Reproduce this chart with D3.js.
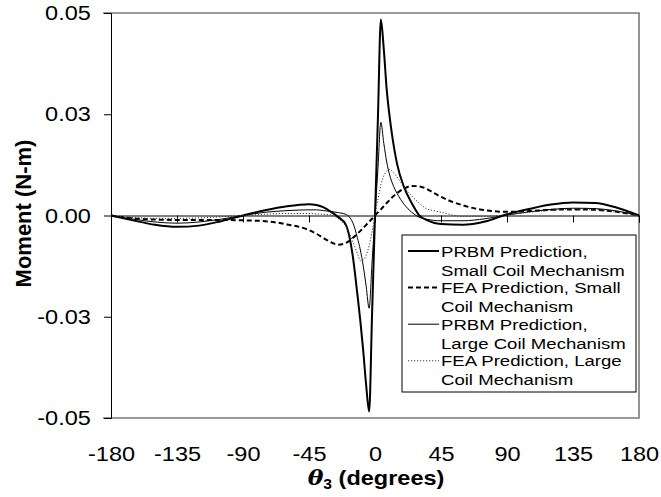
<!DOCTYPE html>
<html>
<head>
<meta charset="utf-8">
<script src="https://d3js.org/d3.v7.min.js"></script>
<style>
  body { margin: 0; background: #fff; }
  text { font-family: Arial, "Liberation Sans", sans-serif; fill: #000; }
</style>
</head>
<body>
<div id="vis"></div>
<script>
  // angle samples (degrees), denser near zero where the spikes are
  var theta = [-180, -165, -150, -135, -120, -105, -90, -75, -60, -45,
    -40, -35, -30, -25, -20, -15, -12, -10, -8, -6, -4, -2, 0,
    2, 4, 6, 8, 10, 12, 15, 20, 25, 30, 35, 40, 45,
    60, 75, 90, 105, 120, 135, 150, 165, 180];

  var prbmSmall = [0, -0.0012, -0.0023, -0.0028, -0.0025, -0.0014, 0, 0.0013, 0.0023, 0.0028,
    0.0026, 0.0020, 0.0009, -0.0004, -0.0022, -0.0104, -0.0195, -0.026, -0.0335, -0.042, -0.0484, -0.0242, 0,
    0.0242, 0.0484, 0.041, 0.031, 0.0243, 0.019, 0.0128, 0.0068, 0.0031, 0.0001, -0.0011, -0.0018, -0.0021,
    -0.0023, -0.0015, 0.0003, 0.0016, 0.0027, 0.0032, 0.0031, 0.0019, 0];

  var feaSmall = [0, -0.0007, -0.0010, -0.0011, -0.0011, -0.0011, -0.0012, -0.0014, -0.0022, -0.0036,
    -0.0045, -0.0056, -0.0066, -0.0072, -0.0068, -0.0055, -0.0045, -0.0038, -0.0031, -0.0023, -0.0015, -0.0008, 0,
    0.0008, 0.0015, 0.0023, 0.0031, 0.0038, 0.0046, 0.0055, 0.0067, 0.0073, 0.0072, 0.0066, 0.0056, 0.0046,
    0.0025, 0.0013, 0.0009, 0.0011, 0.0014, 0.0015, 0.0014, 0.0009, 0];

  var prbmLarge = [0, -0.0009, -0.0016, -0.0019, -0.0016, -0.0009, 0, 0.0008, 0.0012, 0.0014,
    0.0014, 0.0012, 0.0010, 0.0007, 0.0003, -0.0019, -0.0055, -0.0085, -0.0125, -0.0175, -0.0229, -0.0115, 0,
    0.0115, 0.023, 0.0178, 0.0132, 0.0100, 0.0078, 0.0055, 0.0027, 0.0008, -0.0004, -0.0009, -0.0012, -0.0013,
    -0.0013, -0.0008, 0.0001, 0.0009, 0.0015, 0.0018, 0.0017, 0.0011, 0];

  var feaLarge = [0, -0.0005, -0.0007, -0.0007, -0.0006, -0.0003, 0, 0.0003, 0.0005, 0.0005,
    0.0004, 0.0003, 0.0001, -0.0008, -0.0026, -0.0066, -0.0094, -0.0112, -0.0110, -0.0098, -0.0075, -0.0040, 0,
    0.0040, 0.0075, 0.0098, 0.0110, 0.0114, 0.0108, 0.0095, 0.0070, 0.0048, 0.0031, 0.0017, 0.0012, 0.0008,
    -0.0002, -0.0002, 0.0002, 0.0008, 0.0013, 0.0016, 0.0015, 0.0010, 0];

  var xTicks = [-180, -135, -90, -45, 0, 45, 90, 135, 180];
  var yTicks = [0.05, 0.025, 0, -0.025, -0.05];
  var yTickLabels = ['0.05', '0.03', '0.00', '-0.03', '-0.05'];

  var legendLabels = [
    ['PRBM Prediction,', 'Small Coil Mechanism'],
    ['FEA Prediction, Small', 'Coil Mechanism'],
    ['PRBM Prediction,', 'Large Coil Mechanism'],
    ['FEA Prediction, Large', 'Coil Mechanism']
  ];

  // the source image is a bit stretched sideways, so text is too
  var stretch = 1.12;
  var legendStretch = 1.24;

  var margin = { top: 13, right: 22, bottom: 79, left: 111 };
  var width = 661 - margin.left - margin.right;
  var height = 497 - margin.top - margin.bottom;

  var root = d3.select('#vis')
    .append('svg')
    .attr('width', 661)
    .attr('height', 497);

  var svg = root.append('g')
    .attr('transform', 'translate(' + margin.left + ',' + margin.top + ')');

  var x = d3.scaleLinear().domain([-180, 180]).range([0, width]);
  var y = d3.scaleLinear().domain([-0.05, 0.05]).range([height, 0]);

  // gray frame on top, right and bottom
  svg.append('path')
    .attr('d', 'M-8,0H' + width + 'V' + height + 'H-8')
    .attr('fill', 'none')
    .attr('stroke', '#7a7a7a')
    .attr('stroke-width', 1.6);

  // zero line with the little ticks hanging below it
  var zeroAxis = svg.append('g')
    .attr('transform', 'translate(0,' + y(0) + ')')
    .call(d3.axisBottom(x).tickValues(xTicks).tickSize(7).tickFormat(''));
  zeroAxis.select('.domain').attr('stroke', '#000').attr('stroke-width', 1);
  zeroAxis.selectAll('.tick line').attr('stroke', '#000');

  // x tick labels sit under the frame
  var xLab = svg.append('g')
    .attr('transform', 'translate(0,' + height + ')')
    .call(d3.axisBottom(x).tickValues(xTicks).tickSize(0).tickPadding(28)
      .tickFormat(function(d) { return String(d); }));
  xLab.select('.domain').remove();
  xLab.selectAll('text')
    .attr('font-size', 21)
    .attr('font-family', 'Arial, "Liberation Sans", sans-serif')
    .attr('transform', 'scale(' + stretch + ',1)');

  var series = [
    { values: prbmSmall, width: 2, dash: null, color: '#000' },
    { values: feaSmall, width: 2, dash: '5,3', color: '#000' },
    { values: prbmLarge, width: 1, dash: null, color: '#000' },
    { values: feaLarge, width: 1, dash: '1.2,1.8', color: '#333' }
  ];

  var line = d3.line()
    .x(function(d) { return x(d[0]); })
    .y(function(d) { return y(d[1]); })
    .curve(d3.curveMonotoneX);

  svg.append('g').selectAll('path')
    .data(series)
    .enter()
    .append('path')
    .attr('d', function(s) { return line(theta.map(function(t, i) { return [t, s.values[i]]; })); })
    .attr('fill', 'none')
    .attr('stroke', function(s) { return s.color; })
    .attr('stroke-width', function(s) { return s.width; })
    .attr('stroke-dasharray', function(s) { return s.dash; });

  // left axis
  var yAxis = svg.append('g')
    .call(d3.axisLeft(y).tickValues(yTicks).tickSize(7).tickPadding(11)
      .tickFormat(function(d, i) { return yTickLabels[i]; }));
  yAxis.select('.domain').attr('stroke', '#000');
  yAxis.selectAll('.tick line').attr('stroke', '#000');
  yAxis.selectAll('text')
    .attr('font-size', 21)
    .attr('font-family', 'Arial, "Liberation Sans", sans-serif')
    .attr('transform', 'scale(' + stretch + ',1)');

  // axis titles
  root.append('text')
    .attr('transform', 'translate(31,' + (margin.top + y(0) - 2) + ') rotate(-90)')
    .attr('text-anchor', 'middle')
    .attr('font-size', 22)
    .attr('font-weight', 'bold')
    .text('Moment (N-m)');

  var xt = root.append('text')
    .attr('transform', 'translate(' + (margin.left + x(0) + 1) + ',485) scale(' + stretch + ',1)')
    .attr('text-anchor', 'middle')
    .attr('font-size', 21)
    .attr('font-weight', 'bold');
  xt.append('tspan').attr('font-style', 'italic').attr('font-family', '"DejaVu Serif", serif').text('θ');
  xt.append('tspan').attr('font-size', 14).attr('dy', 4).text('3');
  xt.append('tspan').attr('dy', -4).text(' (degrees)');

  // legend
  var lg = root.append('g').attr('transform', 'translate(402,235)');
  lg.append('rect')
    .attr('width', 234)
    .attr('height', 157)
    .attr('fill', '#fff')
    .attr('stroke', '#000')
    .attr('stroke-width', 1);

  var entry = lg.selectAll('.entry')
    .data(series)
    .enter()
    .append('g')
    .attr('class', 'entry')
    .attr('transform', function(s, i) { return 'translate(0,' + (16 + i * 36.6) + ')'; });

  entry.append('line')
    .attr('x1', 6).attr('x2', 37)
    .attr('y1', 0).attr('y2', 0)
    .attr('stroke', function(s) { return s.color; })
    .attr('stroke-width', function(s) { return s.width; })
    .attr('stroke-dasharray', function(s) { return s.dash; });

  entry.each(function(s, i) {
    var g = d3.select(this);
    legendLabels[i].forEach(function(txt, k) {
      g.append('text')
        .attr('transform', 'translate(39,' + (5.5 + k * 19) + ') scale(' + legendStretch + ',1)')
        .attr('font-size', 15)
        .text(txt);
    });
  });
</script>
</body>
</html>
